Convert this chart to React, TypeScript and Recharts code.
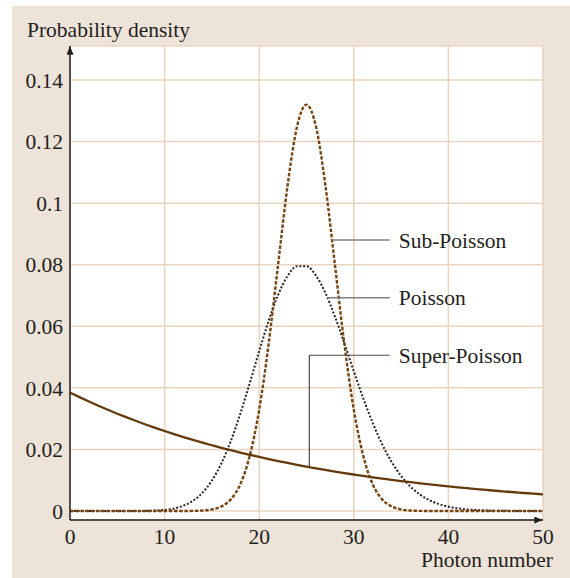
import React from "react";
import { LineChart, Line, XAxis, YAxis, CartesianGrid, ReferenceLine } from "recharts";

// photon number n (x axis)
const photonNumbers = [
  0, 1, 2, 3, 4, 5, 6, 7, 8, 9, 10, 11, 12, 13, 14, 15, 16, 17, 18, 19, 20, 21, 22, 23, 24, 25,
  26, 27, 28, 29, 30, 31, 32, 33, 34, 35, 36, 37, 38, 39, 40, 41, 42, 43, 44, 45, 46, 47, 48, 49, 50,
];

// probability density
const poisson = [
  0, 0, 0, 0, 0, 0, 0, 0.00001, 0.00005, 0.00014, 0.00036, 0.00083, 0.00173, 0.00332, 0.00593,
  0.00989, 0.01546, 0.02273, 0.03157, 0.04153, 0.05192, 0.0618, 0.07023, 0.07634, 0.07952, 0.07952,
  0.07646, 0.0708, 0.06321, 0.05449, 0.04541, 0.03662, 0.02861, 0.02167, 0.01594, 0.01138, 0.00791,
  0.00534, 0.00351, 0.00225, 0.00141, 0.00086, 0.00051, 0.0003, 0.00017, 0.00009, 0.00005, 0.00003,
  0.00001, 0.00001, 0,
];

const subPoisson = [
  0, 0, 0, 0, 0, 0, 0, 0, 0, 0, 0, 0, 0, 0.00004, 0.00016, 0.00051, 0.00147, 0.00378, 0.00867,
  0.0179, 0.0329, 0.0543, 0.0801, 0.1057, 0.1249, 0.132, 0.1249, 0.1057, 0.0801, 0.0543, 0.0329,
  0.0179, 0.00867, 0.00378, 0.00147, 0.00051, 0.00016, 0.00004, 0, 0, 0, 0, 0, 0, 0, 0, 0, 0, 0, 0, 0,
];

const superPoisson = [
  0.03846, 0.03698, 0.03556, 0.03419, 0.03288, 0.03161, 0.0304, 0.02923, 0.0281, 0.02702, 0.02598,
  0.02498, 0.02402, 0.0231, 0.02221, 0.02136, 0.02053, 0.01975, 0.01899, 0.01826, 0.01755, 0.01688,
  0.01623, 0.0156, 0.015, 0.01443, 0.01387, 0.01334, 0.01282, 0.01233, 0.01186, 0.0114, 0.01096,
  0.01054, 0.01013, 0.00974, 0.00937, 0.00901, 0.00866, 0.00833, 0.00801, 0.0077, 0.00741, 0.00712,
  0.00685, 0.00658, 0.00633, 0.00609, 0.00585, 0.00563, 0.00541,
];

const xTicks = [0, 10, 20, 30, 40, 50];
const yTicks = [0, 0.02, 0.04, 0.06, 0.08, 0.1, 0.12, 0.14];

const data = photonNumbers.map((n, i) => ({
  n,
  poisson: poisson[i],
  sub: subPoisson[i],
  super: superPoisson[i],
}));

const FONT = "'Liberation Serif', 'Times New Roman', serif";
const INK = "#231f20";
const BEIGE = "#ede3d8";
const GRID = "#e8d4bf";
const BROWN = "#643a0c";
const FS = 21.5;

const XTick = ({ x, y, payload }: any) => (
  <text x={x} y={y} dy="0.71em" textAnchor="middle" fontSize={FS} fill={INK} fontFamily={FONT}>
    {payload.value}
  </text>
);

const YTick = ({ x, y, payload }: any) => (
  <text x={x} y={y} dy="0.36em" textAnchor="end" fontSize={FS} fill={INK} fontFamily={FONT}>
    {payload.value}
  </text>
);

const seriesLabel = (value: string) => ({
  value,
  position: "right" as const,
  offset: 9,
  fontSize: FS,
  fill: INK,
  fontFamily: FONT,
});

export default function App() {
  return (
    <div style={{ position: "absolute", left: 0, top: 0, width: 570, height: 578, background: "#fff", fontFamily: FONT }}>
      <div style={{ position: "absolute", left: 12, top: 6, right: 0, bottom: 0, background: BEIGE }} />
      <svg width={0} height={0} style={{ position: "absolute" }}>
        <defs>
          <marker
            id="axisArrow"
            viewBox="0 0 10 8"
            refX={10}
            refY={4}
            markerWidth={9}
            markerHeight={7}
            markerUnits="userSpaceOnUse"
            orient="auto-start-reverse"
          >
            <path d="M0,0 L10,4 L0,8 z" fill={INK} />
          </marker>
        </defs>
      </svg>
      <div style={{ position: "absolute", left: 0, top: 0 }}>
        <LineChart width={570} height={578} data={data} margin={{ top: 46, right: 27, bottom: 28, left: 0 }}>
          <CartesianGrid fill="#fff" stroke={GRID} strokeWidth={1.5} />
          <XAxis
            dataKey="n"
            type="number"
            domain={[0, 50]}
            ticks={xTicks}
            height={30}
            tickLine={false}
            tickMargin={3}
            tick={<XTick />}
            axisLine={{ stroke: INK, strokeWidth: 1.5, markerEnd: "url(#axisArrow)" }}
          />
          <YAxis
            type="number"
            domain={[-0.00292, 0.15104]}
            ticks={yTicks}
            width={70}
            tickLine={false}
            tickMargin={1}
            tick={<YTick />}
            axisLine={{ stroke: INK, strokeWidth: 1.5, markerStart: "url(#axisArrow)" }}
          />
          <Line
            dataKey="poisson"
            type="monotone"
            stroke="#262626"
            strokeWidth={2}
            strokeDasharray="2 1.8"
            dot={false}
            isAnimationActive={false}
          />
          <Line
            dataKey="sub"
            type="monotone"
            stroke="#774411"
            strokeWidth={2.4}
            strokeDasharray="3.5 1.7"
            dot={false}
            isAnimationActive={false}
          />
          <Line
            dataKey="super"
            type="monotone"
            stroke={BROWN}
            strokeWidth={2.3}
            dot={false}
            isAnimationActive={false}
          />
          <ReferenceLine
            segment={[{ x: 27.7, y: 0.088 }, { x: 33.8, y: 0.088 }]}
            stroke="#808080"
            strokeWidth={1.5}
            label={seriesLabel("Sub-Poisson")}
          />
          <ReferenceLine
            segment={[{ x: 27.2, y: 0.0693 }, { x: 33.8, y: 0.0693 }]}
            stroke="#808080"
            strokeWidth={1.5}
            label={seriesLabel("Poisson")}
          />
          <ReferenceLine
            segment={[{ x: 25.3, y: 0.0506 }, { x: 33.8, y: 0.0506 }]}
            stroke="#4a4a4a"
            strokeWidth={1.2}
            label={seriesLabel("Super-Poisson")}
          />
          <ReferenceLine
            segment={[{ x: 25.3, y: 0.0506 }, { x: 25.3, y: 0.0143 }]}
            stroke="#4a4a4a"
            strokeWidth={1.2}
          />
        </LineChart>
      </div>
      <svg width={570} height={578} style={{ position: "absolute", left: 0, top: 0, pointerEvents: "none" }}>
        <text x={27} y={36.5} fontSize={FS} fill={INK} fontFamily={FONT}>
          Probability density
        </text>
        <text x={553} y={566.5} fontSize={FS} fill={INK} fontFamily={FONT} textAnchor="end">
          Photon number
        </text>
      </svg>
    </div>
  );
}
